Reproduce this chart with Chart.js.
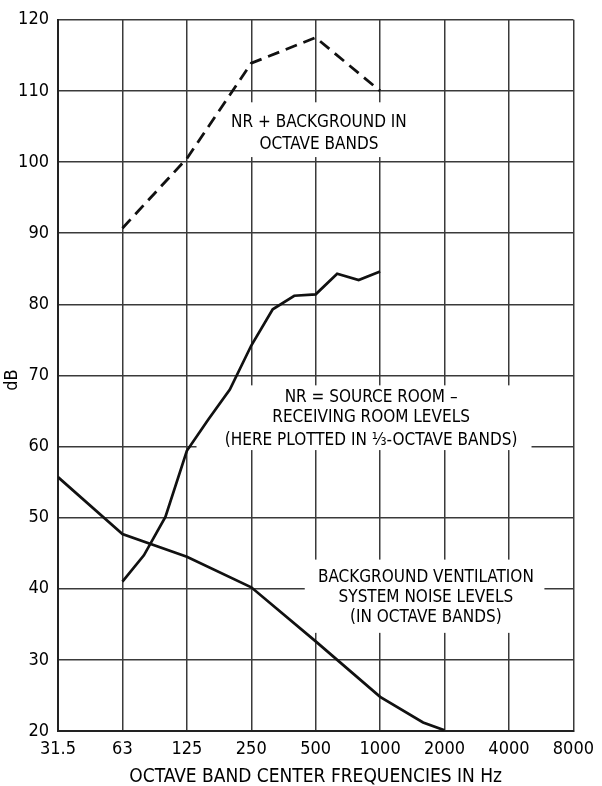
<!DOCTYPE html>
<html>
<head>
<meta charset="utf-8">
<script src="https://cdn.jsdelivr.net/npm/chart.js@4"></script>
<style>
html,body{margin:0;padding:0;background:#fff;}
canvas{display:block;}
</style>
</head>
<body>
<canvas id="c" width="602" height="786"></canvas>
<script>
// Octave band tick labels (x positions are octave indices 0..8)
const freqLabels = ['31.5','63','125','250','500','1000','2000','4000','8000'];

// NR + background, octave bands (63..1000 Hz)
const nrBgIdx = [1, 2, 3, 4, 5];
const nrBgValues = [90.7, 100.5, 113.9, 117.5, 110];

// Background ventilation system noise, octave bands (31.5..2000 Hz, plus 1600 Hz bend)
const bgIdx = [0, 1, 2, 3, 4, 5, 5.667, 6];
const bgValues = [55.7, 47.7, 44.5, 40.2, 32.6, 24.8, 21.2, 20.1];

// NR = source room - receiving room, 1/3-octave bands 63..1000 Hz
const nrThirdFreqs = ['63','80','100','125','160','200','250','315','400','500','630','800','1000'];
const nrIdx = [1, 1.333, 1.667, 2, 2.333, 2.667, 3, 3.333, 3.667, 4, 4.333, 4.667, 5];
const nrValues = [41, 44.7, 50.1, 59.4, 63.8, 68, 74.2, 79.3, 81.2, 81.4, 84.3, 83.4, 84.6];

const yTicks = [20, 30, 40, 50, 60, 70, 80, 90, 100, 110, 120];

const FONT = '"DejaVu Sans Condensed", "Liberation Sans Narrow", "DejaVu Sans", sans-serif';

const pts = (xs, ys) => xs.map((x, i) => ({x: x, y: ys[i]}));

// label annotations in data coordinates (x: octave index, y: dB)
const labels = [
  {x: 4.05, lines: [[105.6, 'NR + BACKGROUND IN'], [102.5, 'OCTAVE BANDS']],
   box: [2.66, 5.45, 108.4, 100.7]},
  {x: 4.86, lines: [[66.9, 'NR = SOURCE ROOM –'], [64.0, 'RECEIVING ROOM LEVELS'], [60.9, '(HERE PLOTTED IN ⅓-OCTAVE BANDS)']],
   box: [2.15, 7.35, 68.6, 59.5]},
  {x: 5.71, lines: [[41.6, 'BACKGROUND VENTILATION'], [38.7, 'SYSTEM NOISE LEVELS'], [35.9, '(IN OCTAVE BANDS)']],
   box: [3.83, 7.55, 44.1, 33.8]}
];

const annot = {
  id: 'annot',
  beforeDatasetsDraw(chart) {
    const ctx = chart.ctx, xs = chart.scales.x, ys = chart.scales.y;
    ctx.save();
    ctx.fillStyle = '#fff';
    labels.forEach(l => {
      const x1 = xs.getPixelForValue(l.box[0]), x2 = xs.getPixelForValue(l.box[1]);
      const y1 = ys.getPixelForValue(l.box[2]), y2 = ys.getPixelForValue(l.box[3]);
      ctx.fillRect(x1, y1, x2 - x1, y2 - y1);
    });
    ctx.restore();
  },
  afterDatasetsDraw(chart) {
    const ctx = chart.ctx, xs = chart.scales.x, ys = chart.scales.y;
    ctx.save();
    ctx.fillStyle = '#000';
    ctx.font = '17px ' + FONT;
    ctx.textAlign = 'center';
    ctx.textBaseline = 'middle';
    labels.forEach(l => {
      const cx = xs.getPixelForValue(l.x);
      l.lines.forEach(([v, t]) => ctx.fillText(t, cx, ys.getPixelForValue(v)));
    });
    // axis titles
    const ca = chart.chartArea;
    ctx.font = '19px ' + FONT;
    ctx.fillText('OCTAVE BAND CENTER FREQUENCIES IN Hz', (ca.left + ca.right) / 2, 777);
    ctx.font = '18px ' + FONT;
    ctx.translate(12, 380);
    ctx.rotate(-Math.PI / 2);
    ctx.fillText('dB', 0, 0);
    ctx.restore();
  }
};

new Chart(document.getElementById('c'), {
  type: 'line',
  data: {
    datasets: [
      {data: pts(nrBgIdx, nrBgValues), borderColor: '#111', borderWidth: 2.8, borderDash: [12, 7], pointRadius: 0, fill: false},
      {data: pts(nrIdx, nrValues), borderColor: '#111', borderWidth: 2.7, pointRadius: 0, fill: false},
      {data: pts(bgIdx, bgValues), borderColor: '#111', borderWidth: 2.7, pointRadius: 0, fill: false}
    ]
  },
  options: {
    responsive: false,
    animation: false,
    devicePixelRatio: 1,
    layout: {padding: {top: 15, right: 27, left: 0, bottom: 0}},
    plugins: {legend: {display: false}, tooltip: {enabled: false}},
    scales: {
      x: {
        type: 'linear', min: 0, max: 8,
        afterBuildTicks: s => { s.ticks = freqLabels.map((_, i) => ({value: i})); },
        afterFit: s => { s.height = 55; },
        grid: {color: '#3a3a3a', lineWidth: 1.5, drawTicks: false},
        border: {color: '#222', width: 2},
        ticks: {autoSkip: false, maxRotation: 0, padding: 8, color: '#000',
                font: {family: FONT, size: 18},
                callback: v => freqLabels[v]}
      },
      y: {
        min: 20, max: 120,
        afterBuildTicks: s => { s.ticks = yTicks.map(v => ({value: v})); },
        afterFit: s => { s.width = 58; },
        grid: {color: '#3a3a3a', lineWidth: 1.5, drawTicks: false},
        border: {color: '#222', width: 2},
        ticks: {padding: 9, color: '#000', font: {family: FONT, size: 18}}
      }
    }
  },
  plugins: [annot]
});
</script>
</body>
</html>
